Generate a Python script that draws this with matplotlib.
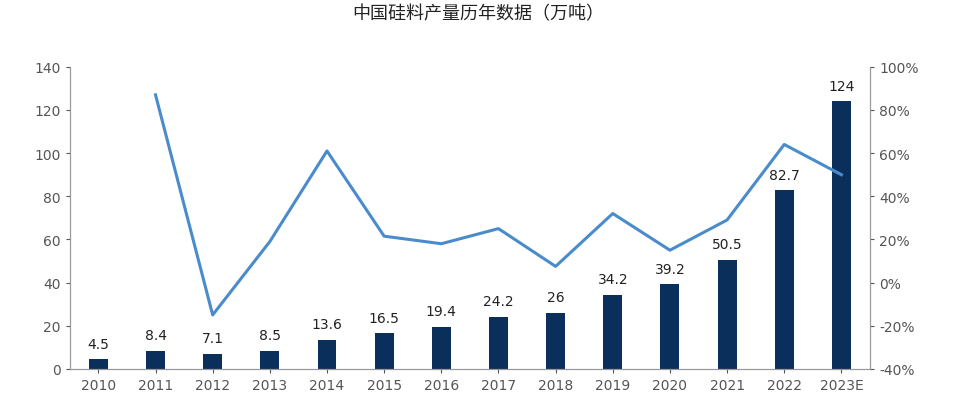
import matplotlib
matplotlib.use("Agg")
import matplotlib.pyplot as plt
from matplotlib.ticker import FuncFormatter

years = ["2010","2011","2012","2013","2014","2015","2016","2017","2018","2019","2020","2021","2022","2023E"]
output = [4.5,8.4,7.1,8.5,13.6,16.5,19.4,24.2,26,34.2,39.2,50.5,82.7,124]
growth = [None,87,-15,19,61,21.5,18,25,7.5,32,15,29,64,50]

fig = plt.figure(figsize=(9.56,4.06), dpi=100)
ax = fig.add_axes([0.073,0.089,0.837,0.744])
x = list(range(len(years)))
ax.bar(x, output, width=0.33, color="#0b2f5b", zorder=2)
for xi, v in zip(x, output):
    ax.text(xi, v+4, f"{v:g}", ha="center", va="bottom", fontsize=10, color="#222222")
ax.set_ylim(0,140)
ax.set_yticks(range(0,141,20))
ax.set_xlim(-0.5, len(years)-0.5)
ax.set_xticks(x)
ax.set_xticklabels(years)
ax2 = ax.twinx()
gx = [xi for xi, g in zip(x, growth) if g is not None]
gy = [g for g in growth if g is not None]
ax2.plot(gx, gy, color="#4a8ccb", lw=2.2, zorder=3)
ax2.set_ylim(-40,100)
ax2.set_yticks(range(-40,101,20))
ax2.yaxis.set_major_formatter(FuncFormatter(lambda v,p: f"{v:.0f}%"))
for a in (ax, ax2):
    a.spines["top"].set_visible(False)
    for s in ("left","right","bottom"):
        a.spines[s].set_color("#999999")
    a.tick_params(colors="#555555", labelsize=10, length=3)
fig.text(0.5, 0.965, "中国硅料产量历年数据（万吨）", ha="center", va="center",
         fontsize=13, fontfamily="Noto Sans CJK SC", color="#222222")
fig.savefig("out.png", dpi=100)
